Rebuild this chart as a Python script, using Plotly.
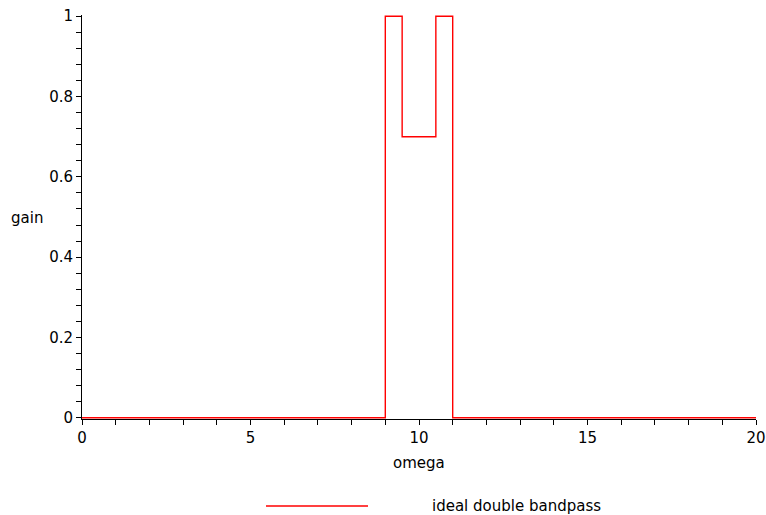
import plotly.graph_objects as go

# Breakpoints of the ideal double bandpass (step function, held until next breakpoint)
omega = [0, 9, 9.5, 10.5, 11, 20]
gain = [0, 1, 0.7, 1, 0, 0]

x_ticks = [0, 5, 10, 15, 20]
y_ticks = [0, 0.2, 0.4, 0.6, 0.8, 1]
y_tick_labels = ["0", "0.2", "0.4", "0.6", "0.8", "1"]

W, H = 766, 515
L, R, T, B = 82, 10, 15, 96
font = dict(family="DejaVu Sans, Liberation Sans, Arial, sans-serif", size=15, color="black")

fig = go.Figure()
fig.add_trace(go.Scatter(x=omega, y=gain, mode="lines", line_shape="hv",
                         line=dict(color="#ff0000", width=1.4),
                         name="ideal double bandpass", showlegend=False))

fig.update_layout(
    width=W, height=H, margin=dict(l=L, r=R, t=T, b=B, autoexpand=False),
    paper_bgcolor="white", plot_bgcolor="white", font=font,
    xaxis=dict(range=[0, 20], tickvals=x_ticks, ticktext=[str(v) for v in x_ticks],
               automargin=False,
               showgrid=False, zeroline=False, showline=True, linecolor="black", linewidth=1,
               ticks="outside", ticklen=5, tickcolor="black", tickwidth=1,
               minor=dict(dtick=1, ticks="outside", ticklen=5, tickcolor="black", tickwidth=1, showgrid=False),
               tickfont=font),
    yaxis=dict(range=[-0.003, 1.003], tickvals=y_ticks, ticktext=y_tick_labels,
               automargin=False,
               showgrid=False, zeroline=False, showline=True, linecolor="black", linewidth=1,
               ticks="outside", ticklen=5, tickcolor="black", tickwidth=1,
               minor=dict(tick0=0, dtick=0.04, ticks="outside", ticklen=5, tickcolor="black", tickwidth=1, showgrid=False),
               tickfont=font),
    showlegend=False,
)

# axis titles
fig.add_annotation(text="omega", xref="paper", yref="paper", x=0.5, y=(H - 463 - B) / (H - T - B),
                   xanchor="center", yanchor="middle", showarrow=False, font=font)
fig.add_annotation(text="gain", xref="paper", yref="paper", x=(9 - L) / (W - L - R), y=(H - 218 - B) / (H - T - B),
                   xanchor="left", yanchor="middle", showarrow=False, font=font)

# legend (drawn manually to match the long sample line)
ly = (H - 506 - B) / (H - T - B)
fig.add_shape(type="line", xref="paper", yref="paper",
              x0=(266 - L) / (W - L - R), x1=(368 - L) / (W - L - R), y0=ly, y1=ly,
              line=dict(color="#ff0000", width=1.4))
fig.add_annotation(text="ideal double bandpass", xref="paper", yref="paper",
                   x=(430 - L) / (W - L - R), y=ly, xanchor="left", yanchor="middle",
                   showarrow=False, font=font)

fig.write_html("out.html")
